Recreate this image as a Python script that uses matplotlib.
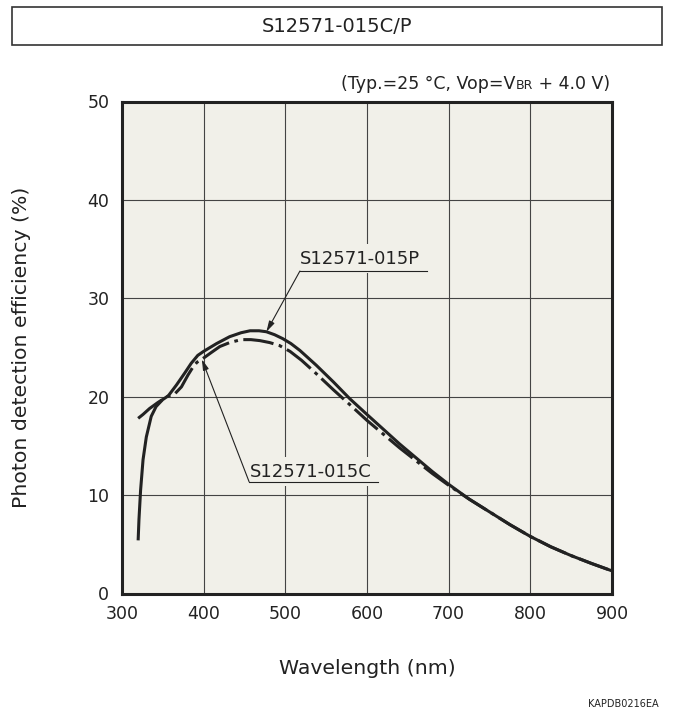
import matplotlib
matplotlib.use("Agg")
import matplotlib.pyplot as plt
from matplotlib.patches import Rectangle

# photon detection efficiency
wl_p = [320, 321, 323, 326, 330, 336, 342, 350, 357, 367, 377, 385, 393, 400, 408, 416,
        432, 446, 457, 468, 477, 487, 497, 507, 518, 538, 559, 579, 600, 620, 640, 660,
        680, 700, 725, 750, 775, 800, 825, 850, 875, 900]
pde_p = [5.4, 7.5, 10.5, 13.6, 15.9, 18.0, 19.0, 19.7, 20.1, 21.2, 22.4, 23.4, 24.2, 24.6, 25.0, 25.4,
         26.1, 26.5, 26.7, 26.7, 26.6, 26.3, 25.9, 25.4, 24.7, 23.2, 21.5, 19.8, 18.2, 16.7, 15.2, 13.8,
         12.4, 11.1, 9.6, 8.3, 7.0, 5.8, 4.75, 3.85, 3.05, 2.3]

wl_c = [320, 326, 334, 344, 355, 365, 373, 381, 387, 392, 398, 408, 420, 432, 446, 458,
        469, 481, 493, 506, 520, 536, 559, 579, 600, 620, 640, 660, 680, 700, 725, 750,
        775, 800, 825, 850, 875, 900]
pde_c = [17.8, 18.2, 18.8, 19.4, 20.0, 20.3, 21.0, 22.2, 23.0, 23.5, 23.8, 24.4, 25.1, 25.5, 25.8, 25.8,
         25.7, 25.5, 25.2, 24.6, 23.7, 22.5, 20.7, 19.2, 17.6, 16.2, 14.8, 13.5, 12.2, 11.0, 9.6, 8.3,
         7.0, 5.8, 4.75, 3.85, 3.05, 2.3]

x_ticks = [300, 400, 500, 600, 700, 800, 900]
y_ticks = [0, 10, 20, 30, 40, 50]

BG = "#f1f0e9"
INK = "#222222"
W, H = 673, 722

plt.rcParams['font.family'] = ['DejaVu Sans']

fig = plt.figure(figsize=(W / 100, H / 100), dpi=100)
ax = fig.add_axes([121.8 / W, 1 - 593.5 / H, 490.2 / W, 492 / H])
ax.set_facecolor(BG)

ax.plot(wl_p, pde_p, color=INK, lw=2.2, solid_capstyle='butt', solid_joinstyle='round', zorder=4)
ax.plot(wl_c, pde_c, color=INK, lw=2.2, ls=(0, (10, 1.8, 1.2, 1.8)), zorder=5)

ax.set_xlim(300, 900)
ax.set_ylim(0, 50)
ax.set_xticks(x_ticks)
ax.set_yticks(y_ticks)
ax.tick_params(length=0, labelsize=12.5, colors=INK)
ax.tick_params(axis='x', pad=8)
ax.tick_params(axis='y', pad=9)
ax.grid(True, color="#444444", lw=0.8)
ax.set_axisbelow(True)
for s in ax.spines.values():
    s.set_linewidth(2.2)
    s.set_color(INK)

ax.set_xlabel("Wavelength (nm)", fontsize=14.7, color=INK)
ax.xaxis.set_label_coords(0.5, -0.133)
ax.set_ylabel("Photon detection efficiency (%)", fontsize=14.7, color=INK)
ax.yaxis.set_label_coords(-0.185, 0.5)

# curve labels with leader arrows
lab = dict(fontsize=13, color=INK, va='baseline', ha='left', zorder=3,
           bbox=dict(boxstyle='square,pad=0.3', fc=BG, ec='none'))
arr = dict(arrowstyle='-|>,head_length=0.8,head_width=0.22', lw=0.8, color=INK,
           mutation_scale=8, shrinkA=0, shrinkB=0)

ax.text(518, 33.5, "S12571-015P", **lab)
ax.plot([518, 673], [32.77, 32.77], color=INK, lw=0.8, zorder=3)
ax.annotate("", xy=(477, 26.6), xytext=(518, 32.77), arrowprops=arr, zorder=6)

ax.text(456.8, 11.87, "S12571-015C", **lab)
ax.plot([455.8, 613.8], [11.36, 11.36], color=INK, lw=0.8, zorder=3)
ax.annotate("", xy=(398, 23.8), xytext=(455.8, 11.36), arrowprops=arr, zorder=6)

# title box
fig.patches.append(Rectangle((11.7 / W, 1 - 45 / H), 650 / W, 38.3 / H,
                             transform=fig.transFigure, fill=False, ec="#333333", lw=1.2))
fig.text(336.7 / W, 1 - 26 / H, "S12571-015C/P", fontsize=14, color=INK,
         ha='center', va='center')

# condition note, BR drawn smaller
r = fig.canvas.get_renderer()
yb = 1 - 89 / H
xr = 610 / W
t3 = fig.text(xr, yb, " + 4.0 V)", fontsize=12.5, color=INK, ha='right', va='baseline')
xr -= t3.get_window_extent(r).width / W
t2 = fig.text(xr, yb, "BR", fontsize=9, color=INK, ha='right', va='baseline')
xr -= t2.get_window_extent(r).width / W
fig.text(xr, yb, "(Typ.=25 °C, Vop=V", fontsize=12.5, color=INK, ha='right', va='baseline')

fig.text(659 / W, 1 - 707 / H, "KAPDB0216EA", fontsize=7, color=INK,
         ha='right', va='baseline')

fig.savefig("out.png", dpi=100, facecolor="white")
